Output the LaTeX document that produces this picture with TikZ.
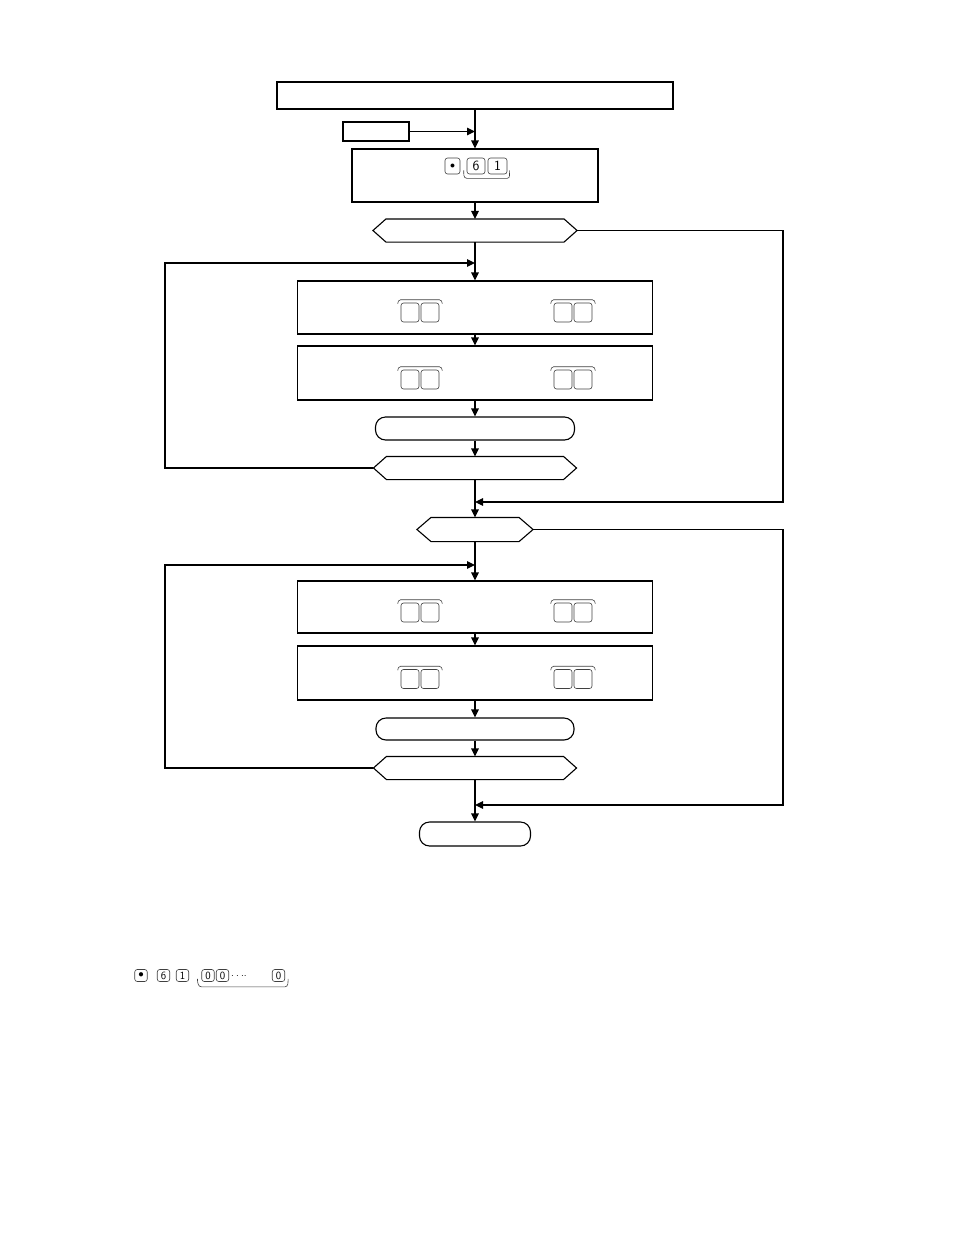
\documentclass[tikz,border=0pt]{standalone}
\usetikzlibrary{arrows.meta}
\newcommand{\hexdraw}[2]{\draw (#1.west) -- ([xshift=#2]#1.north west) -- ([xshift=-#2]#1.north east) -- (#1.east) -- ([xshift=-#2]#1.south east) -- ([xshift=#2]#1.south west) -- cycle;}
% pair of keys with overbrace: name, x center of first key, y center
\newcommand{\keypair}[3]{%
  \node[key, minimum width=18pt, minimum height=19pt] (#1a) at ({#2},{#3}) {};
  \node[key, minimum width=18pt, minimum height=19pt] (#1b) at ({#2+20},{#3}) {};
  \draw[brace] ([xshift=-3pt,yshift=-1pt]#1a.north west) to[out=90,in=180] ([yshift=3pt]#1a.north west) -- ([yshift=3pt]#1b.north east) to[out=0,in=90] ([xshift=3pt,yshift=-1pt]#1b.north east);}
\begin{document}
\begin{tikzpicture}[x=1pt,y=-1pt,line width=1.1pt,
  box/.style={draw,rectangle,inner sep=0pt},
  term/.style={draw,rounded corners=10pt,inner sep=0pt},
  hexnode/.style={inner sep=0pt},
  flow/.style={-{Triangle[length=8pt,width=7.5pt]}},
  key/.style={draw=black!75,line width=0.6pt,rounded corners=2.5pt,inner sep=0pt,font=\sffamily},
  brace/.style={draw=black!75,line width=0.6pt}]
\useasboundingbox (0,0) rectangle (954,1235);

% main boxes
\node[box,minimum width=396pt,minimum height=27pt] (top) at (475,95.5) {};
\node[box,minimum width=66pt,minimum height=19pt] (small) at (376,131.5) {};
\node[box,minimum width=246pt,minimum height=53pt] (b2) at (475,175.5) {};
\node[hexnode,minimum width=203pt,minimum height=22pt] (h1) at (475,230.5) {};
\node[box,minimum width=355pt,minimum height=53pt] (b3) at (475,307.5) {};
\node[box,minimum width=355pt,minimum height=54pt] (b4) at (475,373) {};
\node[term,minimum width=199pt,minimum height=23pt] (r1) at (475,428.5) {};
\node[hexnode,minimum width=202pt,minimum height=22pt] (h2) at (475,468) {};
\node[hexnode,minimum width=115pt,minimum height=23pt] (h3) at (475,529.5) {};
\node[box,minimum width=355pt,minimum height=52pt] (b5) at (475,607) {};
\node[box,minimum width=355pt,minimum height=54pt] (b6) at (475,673) {};
\node[term,minimum width=198pt,minimum height=22pt] (r2) at (475,729) {};
\node[hexnode,minimum width=202pt,minimum height=22pt] (h4) at (475,768) {};
\node[term,minimum width=111pt,minimum height=24pt] (fin) at (475,834) {};

\hexdraw{h1}{13pt}
\hexdraw{h2}{13pt}
\hexdraw{h3}{14pt}
\hexdraw{h4}{13pt}

% connector coordinates
\coordinate (j0) at (475,131.5);
\coordinate (rb1) at (783,502);
\coordinate (rj1) at (475,502);
\coordinate (lt1) at (165,263);
\coordinate (lj1) at (475,263);
\coordinate (rb2) at (783,805);
\coordinate (rj2) at (475,805);
\coordinate (lt2) at (165,565);
\coordinate (lj2) at (475,565);

% connectors
\draw[flow] (small.east) -- (j0);
\draw[flow] (top.south) -- (b2.north);
\draw[flow] (b2.south) -- (h1.north);
\draw[flow] (h1.south) -- (b3.north);
\draw[flow] (b3.south) -- (b4.north);
\draw[flow] (b4.south) -- (r1.north);
\draw[flow] (r1.south) -- (h2.north);
\draw[flow] (h2.south) -- (h3.north);
\draw[flow] (h3.south) -- (b5.north);
\draw[flow] (b5.south) -- (b6.north);
\draw[flow] (b6.south) -- (r2.north);
\draw[flow] (r2.south) -- (h4.north);
\draw[flow] (h4.south) -- (fin.north);
\draw[flow] (h1.east) -| (rb1) -- (rj1);
\draw[flow] (h2.west) -| (lt1) -- (lj1);
\draw[flow] (h3.east) -| (rb2) -- (rj2);
\draw[flow] (h4.west) -| (lt2) -- (lj2);

% keys in box 2
\node[key,minimum width=15pt,minimum height=16pt,font=\normalsize] (k0) at (452.5,166) {$\bullet$};
\node[key,minimum width=18pt,minimum height=16pt,font=\sffamily\fontsize{14}{14}\selectfont] (k6) at (476,166) {6};
\node[key,minimum width=19pt,minimum height=16pt,font=\sffamily\fontsize{14}{14}\selectfont] (k1) at (497.5,166) {1};
\draw[brace] ([xshift=-3pt,yshift=4pt]k6.south west) to[out=-90,in=180] ([yshift=-4pt]k6.south west) -- ([yshift=-4pt]k1.south east) to[out=0,in=-90] ([xshift=2pt,yshift=4pt]k1.south east);

% key pairs
\keypair{p1}{410}{312.5}
\keypair{p2}{563}{312.5}
\keypair{p3}{410}{379.5}
\keypair{p4}{563}{379.5}
\keypair{p5}{410}{612.5}
\keypair{p6}{563}{612.5}
\keypair{p7}{410}{679}
\keypair{p8}{563}{679}

% bottom key row
\begin{scope}[every node/.style={key,minimum width=12.5pt,minimum height=12pt,font=\sffamily\fontsize{11}{11}\selectfont}]
\node (q0) at (141,975.5) {$\bullet$};
\node (q6) at (163.5,975.5) {6};
\node (q1) at (182.5,975.5) {1};
\node (qa) at (208,975.5) {0};
\node (qb) at (222.5,975.5) {0};
\node (qz) at (278.5,975.5) {0};
\end{scope}
\node[inner sep=0pt,font=\normalsize] (qd) at (239,976) {$\cdot\cdot\cdot\cdot$};
\draw[brace] ([xshift=-4pt,yshift=3pt]qa.south west) to[out=-90,in=180] ([yshift=-5pt]qa.south west) -- ([yshift=-5pt]qz.south east) to[out=0,in=-90] ([xshift=3pt,yshift=3pt]qz.south east);
\end{tikzpicture}
\end{document}
